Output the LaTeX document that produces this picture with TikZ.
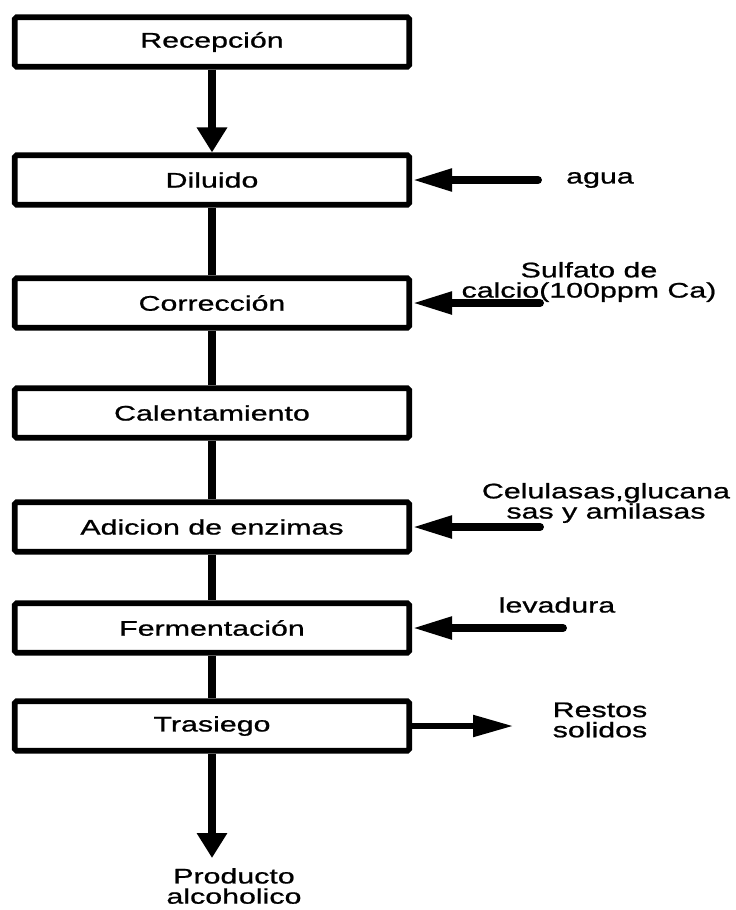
\documentclass[tikz,border=0pt]{standalone}
\usepackage{fontspec}
\setmainfont{Liberation Sans}[FakeStretch=1.44, FakeBold=0.9]
\usetikzlibrary{arrows.meta}

\begin{document}
\begin{tikzpicture}[x=0.02cm, y=-0.02cm,
        every node/.style={font=\fontsize{12}{11.5}\selectfont, align=center},
        etapa/.style={draw, line width=3.2pt, rounded corners=1pt, minimum width=7.89cm, minimum height=0.99cm, inner sep=0pt},
        linea/.style={line width=4pt},
        bajada/.style={line width=4pt, -{Triangle[length=0.5cm, width=0.58cm]}},
        entrada/.style={line width=4.5pt, line cap=round, -{Triangle[length=0.8cm, width=0.42cm]}},
        salida/.style={line width=3pt, -{Triangle[length=0.8cm, width=0.42cm]}}]
        \useasboundingbox (0, 0) rectangle (735, 910);
        \draw (212, 42) node(recepcion)[etapa]{Recepción};
        \draw (212, 180) node(diluido)[etapa]{Diluido};
        \draw[bajada] (recepcion) -- (diluido);
        \draw (600, 180) node(agua){agua};
        \coordinate (aguain) at (538, 180);
        \draw[entrada] (aguain) -- (diluido.east);
        \draw (212, 303) node(correccion)[etapa]{Corrección};
        \draw[linea] (diluido) -- (correccion);
        \draw (589, 282) node(sulfato){Sulfato de\\calcio(100ppm Ca)};
        \coordinate (sulfatoin) at (540, 303);
        \draw[entrada] (sulfatoin) -- (correccion.east);
        \draw (212, 413) node(calentamiento)[etapa]{Calentamiento};
        \draw[linea] (correccion) -- (calentamiento);
        \draw (212, 527) node(enzimas)[etapa]{Adicion de enzimas};
        \draw[linea] (calentamiento) -- (enzimas);
        \draw (606, 503) node(celulasas){Celulasas,glucana\\sas y amilasas};
        \coordinate (celulasasin) at (540, 527);
        \draw[entrada] (celulasasin) -- (enzimas.east);
        \draw (212, 628) node(fermentacion)[etapa]{Fermentación};
        \draw[linea] (enzimas) -- (fermentacion);
        \draw (557, 605) node(levadura){levadura};
        \coordinate (levadurain) at (563, 628);
        \draw[entrada] (levadurain) -- (fermentacion.east);
        \draw (212, 726) node(trasiego)[etapa]{Trasiego};
        \draw[linea] (fermentacion) -- (trasiego);
        \draw (600, 720) node(restos){Restos\\solidos};
        \coordinate (restosout) at (513, 726);
        \draw[salida] (trasiego.east) -- (restosout);
        \coordinate (fin) at (212, 858);
        \draw[bajada] (trasiego) -- (fin);
        \draw (234, 886) node(producto){Producto\\alcoholico};
    \end{tikzpicture}
\end{document}
